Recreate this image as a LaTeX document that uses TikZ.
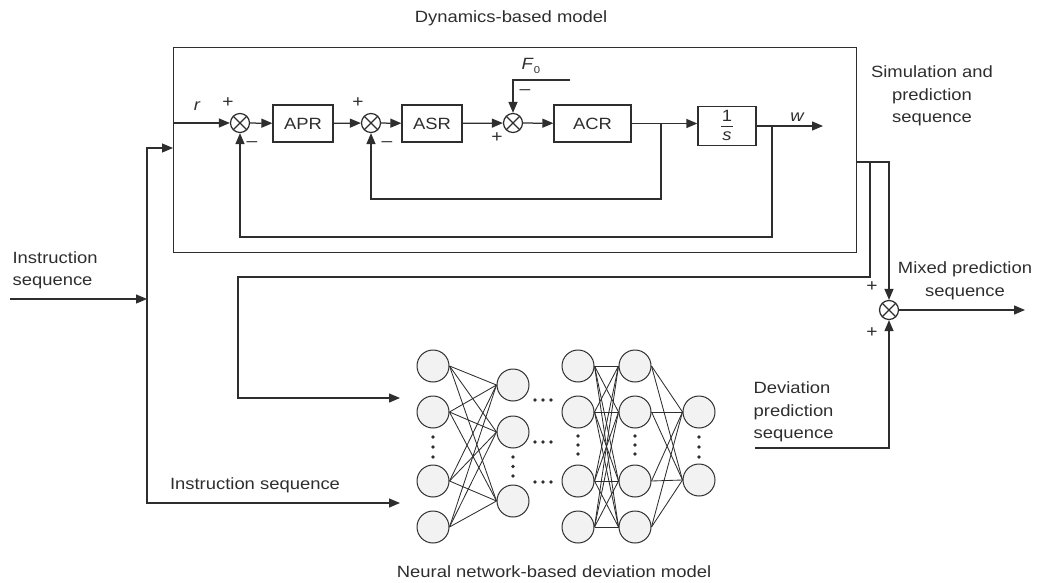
\documentclass[tikz,border=0pt]{standalone}
\usepackage{fontspec}
\setmainfont{Liberation Sans}[FakeStretch=1.13]
\usetikzlibrary{arrows.meta,calc}
\definecolor{ink}{HTML}{2E2E2E}
\definecolor{cellfill}{HTML}{F2F2F2}

\begin{document}
\begin{tikzpicture}[x=1pt,y=-1pt,line width=1.25pt,color=ink,
  lbl/.style={font=\fontsize{16.3}{22.5}\selectfont},
  sgn/.style={font=\fontsize{17}{17}\selectfont},
  blk/.style={draw,minimum height=37pt,inner sep=0pt,font=\fontsize{16.3}{18}\selectfont},
  sumj/.style={circle,draw,minimum size=19pt,inner sep=0pt,
    path picture={\draw (path picture bounding box.north west)--(path picture bounding box.south east)
                        (path picture bounding box.north east)--(path picture bounding box.south west);}},
  arr/.style={-{Triangle[length=11pt,width=9pt]}},
  neuron/.style={circle,draw,fill=cellfill,minimum size=32pt,inner sep=0pt,line width=1pt},
  link/.style={line width=0.85pt},
  dotmark/.style={circle,fill=ink,inner sep=0pt,minimum size=3.8pt}]
\useasboundingbox (0,0) rectangle (1038,583);

% ---------------- dynamics-based model ----------------
\node[draw,minimum width=683pt,minimum height=205pt,anchor=north west,inner sep=0pt] (dyn) at (173,47) {};
\node[lbl] (dyntitle) at (511,18) {Dynamics-based model};

\coordinate (rin) at (173,123);
\node[sumj] (s1) at (240,123) {};
\node[blk,minimum width=60pt] (apr) at (303,123.5) {APR};
\node[sumj] (s2) at (371,123) {};
\node[blk,minimum width=60pt] (asr) at (432,123.5) {ASR};
\node[sumj] (s3) at (513,123) {};
\node[blk,minimum width=77pt] (acr) at (592.5,123.5) {ACR};
\node[blk,minimum width=58pt,minimum height=39pt] (int) at (727,126) {};
\node[font=\fontsize{16.3}{18}\selectfont,inner sep=0pt] (one) at (727,115.5) {1};
\node[font=\fontsize{16.3}{18}\itshape,inner sep=0pt] (ess) at (727,136) {s};
\draw[line width=0.9pt] (721,126.5) -- (733,126.5);

\draw[arr] (rin) -- (s1);
\draw[arr] (s1) -- (apr);
\draw[arr] (apr) -- (s2);
\draw[arr] (s2) -- (asr);
\draw[arr] (asr) -- (s3);
\draw[arr] (s3) -- (acr);
\draw[arr] (acr.east) -- (acr.east -| int.west);

\coordinate (wout) at (823,126);
\draw[arr] (int.east) -- (wout);
\node[font=\fontsize{16.3}{18}\itshape] (wlbl) at (797,117) {w};
\node[font=\fontsize{16.3}{18}\itshape] (rlbl) at (197,106) {r};

% disturbance input
\coordinate (f0) at (570,80);
\draw[arr] (f0) -| (s3);
\node[inner sep=0pt] (f0lbl) at (531,66) {\fontsize{16.3}{18}\selectfont\itshape F\kern1pt\raisebox{-4.5pt}{\fontsize{10}{10}\upshape 0}};

% signs at the summing junctions
\node[sgn] at (228,103) {+};
\node[sgn] at (252,144) {--};
\node[sgn] at (358,103) {+};
\node[sgn] at (387,144) {--};
\node[sgn] at (497,138) {+};
\node[sgn] at (525,92) {--};

% feedback loops
\coordinate (fbA) at (661,123.5);
\coordinate (fbAlow) at (661,199);
\draw[arr] (fbA) -- (fbAlow) -| (s2);
\coordinate (fbB) at (772,126);
\coordinate (fbBlow) at (772,237);
\draw[arr] (fbB) -- (fbBlow) -| (s1);

% ---------------- instruction inputs ----------------
\node[lbl,align=left,anchor=west,inner sep=0pt] (instr) at (12,270.5) {Instruction\\sequence};
\coordinate (instart) at (10,299);
\coordinate (insplit) at (147,299);
\coordinate (dynin) at (173,148);
\coordinate (nnin2) at (400,503);
\draw[arr] (instart) -- (insplit);
\draw[arr] (insplit) |- (dynin);
\draw[arr] (insplit) |- (nnin2);
\node[lbl] (instr2) at (255,485) {Instruction sequence};

% ---------------- simulation output ----------------
\coordinate (simout) at (856,162);
\coordinate (simsplit) at (870,162);
\coordinate (simlow) at (870,277);
\coordinate (simleft) at (238,277);
\coordinate (nnin1) at (400,398);
\node[sumj] (smix) at (889,310) {};
\draw[arr] (simout) -| (smix);
\draw[arr] (simsplit) -- (simlow) -| (simleft) |- (nnin1);
\node[lbl,align=center] (simlbl) at (932,96) {Simulation and\\prediction\\sequence};

\coordinate (mixout) at (1025,310);
\draw[arr] (smix) -- (mixout);
\node[lbl,align=center] (mixlbl) at (965,281) {Mixed prediction\\sequence};
\node[sgn] at (872,287) {+};
\node[sgn] at (872,333) {+};

\coordinate (devstart) at (755,448);
\draw[arr] (devstart) -| (smix);
\node[lbl,align=left,anchor=west,inner sep=0pt] (devlbl) at (753,412) {Deviation\\prediction\\sequence};

% ---------------- neural network ----------------
\foreach \i/\y in {1/366,2/412,3/481,4/527} {
  \node[neuron] (a\i) at (433,\y) {};
  \node[neuron] (c\i) at (578,\y) {};
  \node[neuron] (d\i) at (635,\y) {};
}
\foreach \i/\y in {1/385,2/432,3/501} \node[neuron] (b\i) at (513,\y) {};
\foreach \i/\y in {1/412,2/480} \node[neuron] (e\i) at (699,\y) {};

\foreach \i in {1,...,4} \foreach \j in {1,2,3} \draw[link] (a\i.east) -- (b\j.west);
\foreach \i in {1,...,4} \foreach \j in {1,...,4} \draw[link] (c\i.east) -- (d\j.west);
\foreach \i in {1,...,4} \foreach \j in {1,2} \draw[link] (d\i.east) -- (e\j.west);

% ellipsis marks
\foreach \y in {400,442,482} \foreach \x in {535,543,551} \node[dotmark] at (\x,\y) {};
\foreach \y in {437,447,457} {
  \node[dotmark] at (433,\y) {};
  \node[dotmark] at (699,\y) {};
}
\foreach \y in {457,466.5,476} \node[dotmark] at (513,\y) {};
\foreach \y in {436,445,454} {
  \node[dotmark] at (578,\y) {};
  \node[dotmark] at (635,\y) {};
}

\node[lbl] (nnlbl) at (554,572) {Neural network-based deviation model};
\end{tikzpicture}
\end{document}
